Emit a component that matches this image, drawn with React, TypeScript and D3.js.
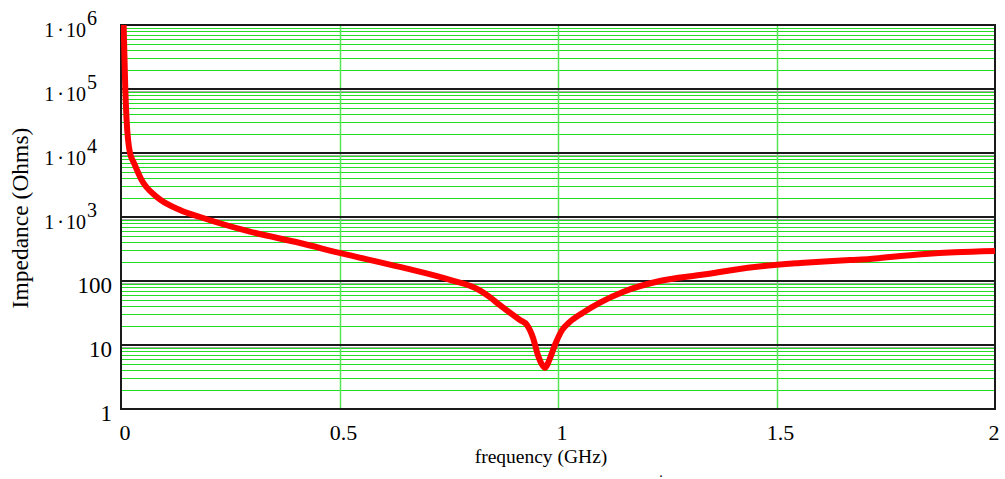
import React from "react";
import * as d3 from "d3";

const freqGHz = [0.006, 0.0098, 0.0128, 0.0206, 0.03, 0.047, 0.082, 0.135, 0.181, 0.295, 0.41, 0.5, 0.638, 0.753, 0.82, 0.844, 0.867, 0.913, 0.929, 0.943, 0.954, 0.963, 0.97, 0.976, 0.982, 0.993, 1.009, 1.027, 1.057, 1.096, 1.15, 1.233, 1.325, 1.45, 1.554, 1.668, 1.714, 1.76, 1.84, 1.908, 2.0];
const impedanceOhms = [1e6, 1e5, 33000, 10000, 6900, 3800, 2050, 1290, 1000, 590, 392, 275, 166, 104, 72, 56, 42, 24.6, 20.6, 12.9, 7, 5.0, 4.4, 5.0, 6.3, 10, 17, 23, 32, 46, 68, 100, 124, 166, 191, 213, 220, 237, 265, 282, 295];

const xTicks = [0, 0.5, 1, 1.5, 2];
const xTickLabels = ["0", "0.5", "1", "1.5", "2"];
const yDecades = [1, 10, 100, 1000, 10000, 100000, 1000000];
const yPlainLabels: Record<number, string> = { 1: "1", 10: "10", 100: "100" };
const yExpLabels: Record<number, string> = { 1000: "3", 10000: "4", 100000: "5", 1000000: "6" };

const W = 1005;
const H = 479;
const L = 121, R = 995, T = 25, B = 409;

export default function App() {
  const x = d3.scaleLinear().domain([0, 2]).range([L, R]);
  const y = d3.scaleLog().domain([1, 1e6]).range([B, T]);

  const minors: number[] = [];
  for (let d = 0; d < 6; d++) {
    for (let m = 2; m <= 9; m++) minors.push(m * Math.pow(10, d));
  }

  const pts: [number, number][] = freqGHz.map((f, i) => [f, impedanceOhms[i]]);
  const line = d3
    .line<[number, number]>()
    .x((d) => x(d[0]))
    .y((d) => y(Math.max(1, Math.min(1e6, d[1]))))
    .curve(d3.curveMonotoneX);

  const font = "'Liberation Serif', 'Times New Roman', serif";
  const px = (v: number) => Math.round(v) + 0.5;

  return (
    <svg
      width={W}
      height={H}
      style={{ position: "absolute", left: 0, top: 0, background: "#fff" }}
      fontFamily={font}
    >
      <rect x={0} y={0} width={W} height={H} fill="#fff" />
      {/* minor grid */}
      {minors.map((v) => (
        <line key={"m" + v} x1={L} x2={R} y1={px(y(v))} y2={px(y(v))} stroke="#22dd22" strokeWidth={1} shapeRendering="crispEdges" />
      ))}
      {/* vertical grid */}
      {xTicks.slice(1, -1).map((t) => (
        <line key={"v" + t} x1={px(x(t))} x2={px(x(t))} y1={T} y2={B} stroke="#55e655" strokeWidth={1.5} />
      ))}
      {/* major decade lines */}
      {yDecades.slice(1, -1).map((v) => (
        <g key={"M" + v}>
          <line x1={L} x2={R} y1={Math.round(y(v)) + 2} y2={Math.round(y(v)) + 2} stroke="#a8a8a8" strokeWidth={1} shapeRendering="crispEdges" />
          <line x1={L} x2={R} y1={Math.round(y(v))} y2={Math.round(y(v))} stroke="#1a1a1a" strokeWidth={2} shapeRendering="crispEdges" />
        </g>
      ))}
      {/* border */}
      <rect x={L} y={T} width={R - L} height={B - T} fill="none" stroke="#1a1a1a" strokeWidth={2} shapeRendering="crispEdges" />
      {/* curve */}
      <defs>
        <clipPath id="plotclip">
          <rect x={L} y={T} width={R - L} height={B - T} />
        </clipPath>
      </defs>
      <path d={line(pts) || ""} fill="none" stroke="#ff0000" strokeWidth={6} strokeLinejoin="round" clipPath="url(#plotclip)" />
      {/* y tick labels */}
      {yDecades.map((v) =>
        yPlainLabels[v] !== undefined ? (
          <text key={"yl" + v} x={112} y={y(v) + 11.5} fontSize={23} textAnchor="end" fill="#000">
            {yPlainLabels[v]}
          </text>
        ) : (
          <text key={"yl" + v} x={97} y={y(v) + 12} fontSize={20} textAnchor="end" fill="#000">
            <tspan>1</tspan>
            <tspan dx={3}>·</tspan>
            <tspan dx={2}>10</tspan>
            <tspan dx={1} dy={-12}>{yExpLabels[v]}</tspan>
          </text>
        )
      )}
      {/* x tick labels */}
      {xTicks.map((t, i) => (
        <text key={"xl" + t} x={Math.min(x(t) + 4, 994)} y={440} fontSize={22} textAnchor="middle" fill="#000">
          {xTickLabels[i]}
        </text>
      ))}
      {/* axis titles */}
      <text x={541} y={463} fontSize={19.5} textAnchor="middle" fill="#000">
        frequency (GHz)
      </text>
      <text x={661} y={477} fontSize={14} textAnchor="middle" fill="#000">.</text>
      <text transform={`translate(28,218) rotate(-90)`} fontSize={23.5} textAnchor="middle" fill="#000">
        Impedance (Ohms)
      </text>
    </svg>
  );
}
